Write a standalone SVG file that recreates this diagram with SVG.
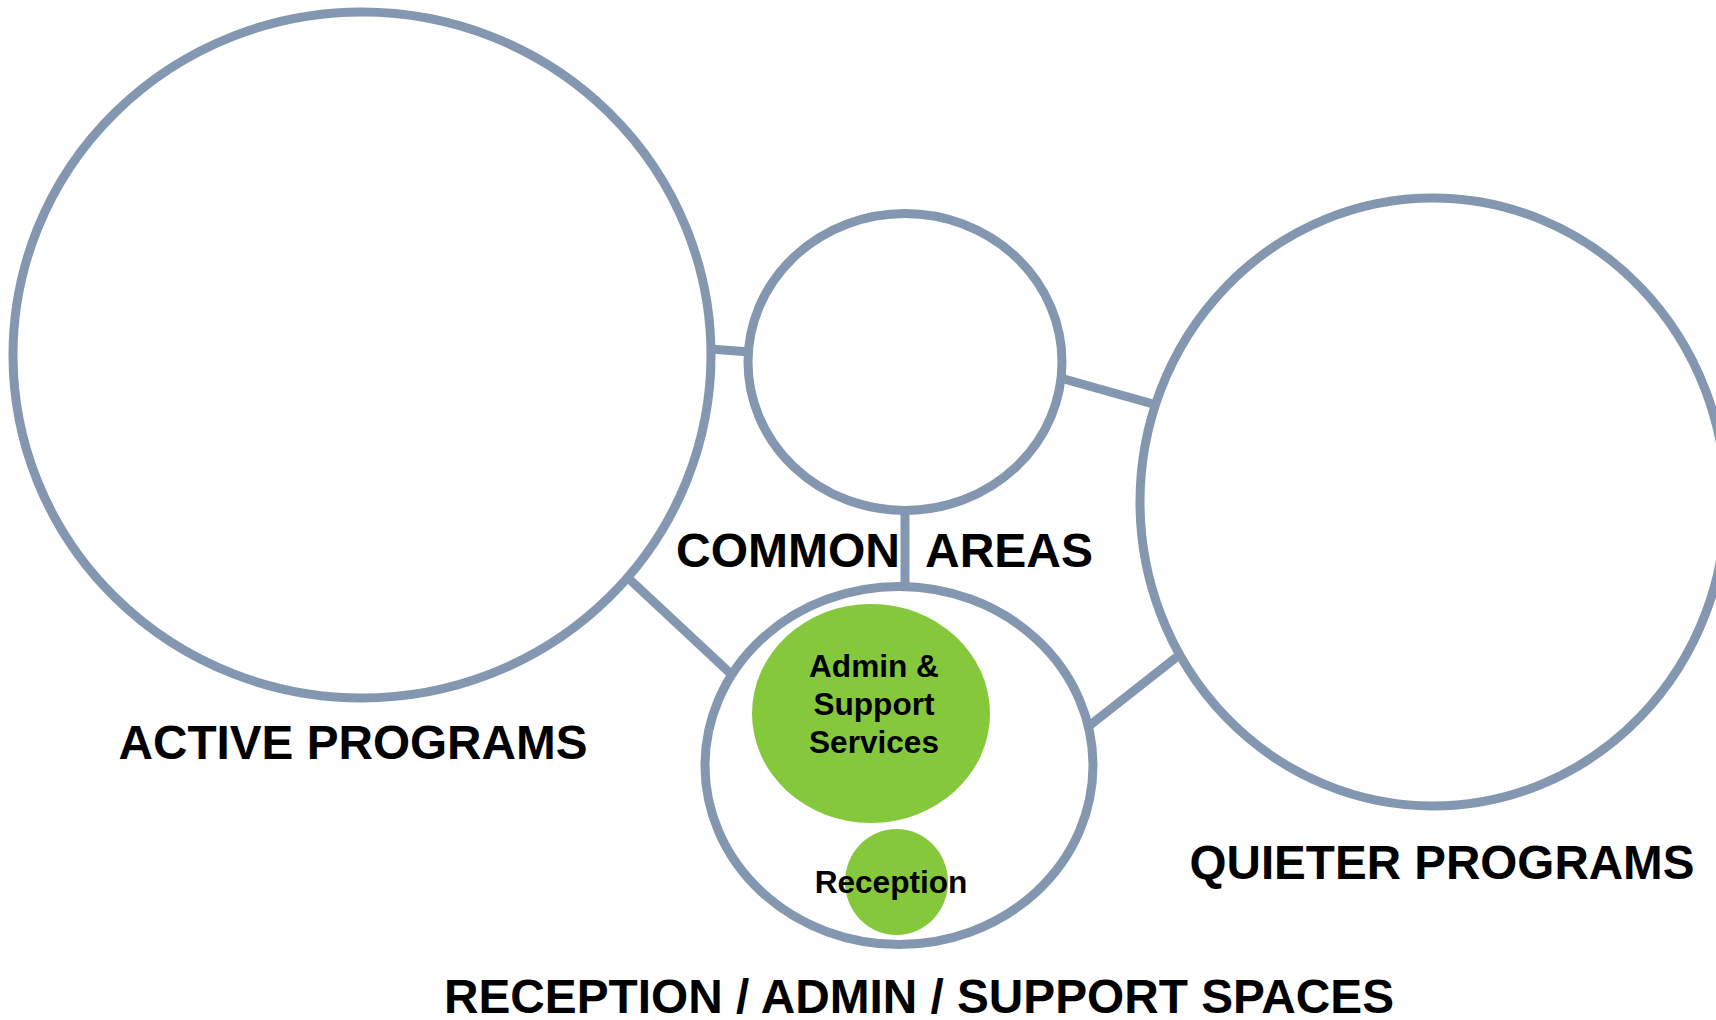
<svg xmlns="http://www.w3.org/2000/svg" width="1716" height="1020" viewBox="0 0 1716 1020">
<style>
.ring{fill:#fff;stroke:#8497B0;stroke-width:9}
.conn{stroke:#8497B0;stroke-width:9;fill:none}
.blob{fill:#86C83C}
.big{font-family:"Liberation Sans",Arial,sans-serif;font-weight:bold;font-size:48px;fill:#000}
.small{font-family:"Liberation Sans",Arial,sans-serif;font-weight:bold;font-size:31.6px;fill:#000;text-anchor:middle}
</style>
<rect width="1716" height="1020" fill="#fff"/>
<g id="connectors">
<line class="conn" x1="710" y1="349" x2="750" y2="352"/>
<line class="conn" x1="1057" y1="377" x2="1153" y2="404"/>
<line class="conn" x1="905" y1="508" x2="905" y2="588"/>
<line class="conn" x1="626" y1="576" x2="731" y2="674"/>
<line class="conn" x1="1089" y1="726" x2="1178" y2="656"/>
</g>
<g id="active-programs">
<ellipse class="ring" cx="362" cy="355" rx="349" ry="343"/>
<text class="big" x="353" y="759" text-anchor="middle" textLength="469" lengthAdjust="spacingAndGlyphs">ACTIVE PROGRAMS</text>
</g>
<g id="common-areas">
<ellipse class="ring" cx="905" cy="362" rx="157" ry="148.5"/>
<text class="big" y="567"><tspan x="676">COMMON</tspan><tspan x="925">AREAS</tspan></text>
</g>
<g id="quieter-programs">
<ellipse class="ring" cx="1433" cy="502" rx="293" ry="304"/>
<text class="big" x="1442" y="879" text-anchor="middle" textLength="505" lengthAdjust="spacingAndGlyphs">QUIETER PROGRAMS</text>
</g>
<g id="reception-admin-support">
<ellipse class="ring" cx="899" cy="765.5" rx="194" ry="179"/>
<text class="big" x="919" y="1013" text-anchor="middle" textLength="950" lengthAdjust="spacingAndGlyphs">RECEPTION / ADMIN / SUPPORT SPACES</text>
</g>
<g id="admin-support-services">
<ellipse class="blob" cx="871" cy="713.5" rx="119" ry="109.5"/>
<text class="small" x="874" y="677">Admin &amp;</text>
<text class="small" x="874" y="715">Support</text>
<text class="small" x="874" y="753">Services</text>
</g>
<g id="reception">
<ellipse class="blob" cx="896.5" cy="882" rx="51.5" ry="53"/>
<text class="small" x="891" y="893">Reception</text>
</g>
</svg>
